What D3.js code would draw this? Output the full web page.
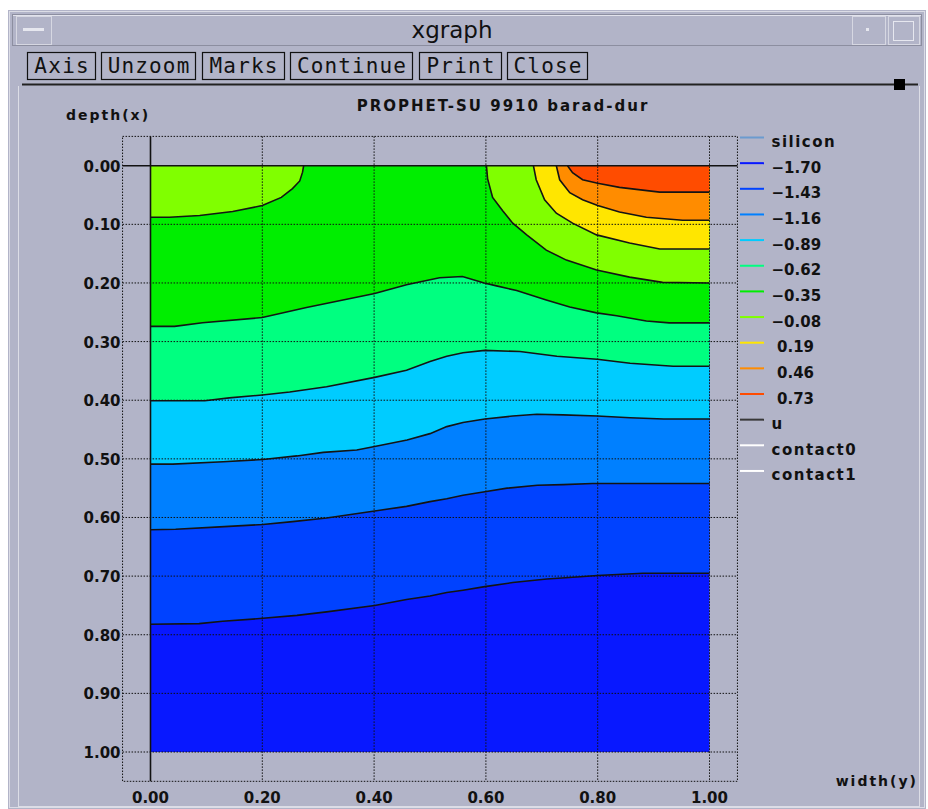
<!DOCTYPE html>
<html>
<head>
<meta charset="utf-8">
<script src="https://cdn.jsdelivr.net/npm/d3@7"></script>
<style>
	body { margin: 0; background: #fff; }
	svg { display: block; font-family: "DejaVu Sans", sans-serif; }
</style>
</head>
<body>
<div id="chart-container"></div>
<script>
const width = 928;
const height = 809;

// contour levels (u) and the legend entries
const levels = [-1.70, -1.43, -1.16, -0.89, -0.62, -0.35, -0.08, 0.19, 0.46, 0.73];
const extraSeries = ["u", "contact0", "contact1"];
const buttons = ["Axis", "Unzoom", "Marks", "Continue", "Print", "Close"];
const xTicks = [0.0, 0.2, 0.4, 0.6, 0.8, 1.0];
const yTicks = [0.0, 0.1, 0.2, 0.3, 0.4, 0.5, 0.6, 0.7, 0.8, 0.9, 1.0];

// contour pieces, points are [width(y), depth(x)]
const contour_m143 = [[0, 0.782], [0.087, 0.781], [0.129, 0.777], [0.201, 0.772], [0.262, 0.767], [0.315, 0.761], [0.401, 0.750], [0.458, 0.740], [0.500, 0.734], [0.530, 0.728], [0.559, 0.724], [0.598, 0.718], [0.648, 0.711], [0.709, 0.705], [0.769, 0.701], [0.799, 0.699], [0.881, 0.695], [1.0, 0.695]];
const contour_m116 = [[0, 0.621], [0.045, 0.620], [0.124, 0.616], [0.201, 0.612], [0.254, 0.607], [0.315, 0.601], [0.401, 0.589], [0.458, 0.581], [0.500, 0.573], [0.530, 0.568], [0.559, 0.562], [0.598, 0.556], [0.638, 0.550], [0.692, 0.545], [0.738, 0.544], [0.791, 0.542], [1.0, 0.542]];
const contour_m089 = [[0, 0.509], [0.040, 0.509], [0.130, 0.505], [0.201, 0.501], [0.262, 0.495], [0.309, 0.489], [0.369, 0.485], [0.401, 0.479], [0.459, 0.468], [0.500, 0.457], [0.530, 0.445], [0.559, 0.438], [0.598, 0.432], [0.648, 0.427], [0.691, 0.424], [0.738, 0.425], [0.799, 0.427], [0.858, 0.430], [0.918, 0.432], [1.0, 0.432]];
const contour_m062 = [[0, 0.401], [0.097, 0.401], [0.141, 0.396], [0.200, 0.391], [0.249, 0.386], [0.315, 0.377], [0.401, 0.361], [0.458, 0.349], [0.500, 0.334], [0.530, 0.325], [0.559, 0.319], [0.598, 0.315], [0.661, 0.317], [0.727, 0.325], [0.799, 0.330], [0.858, 0.337], [0.935, 0.342], [1.0, 0.342]];
const contour_m035 = [[0, 0.274], [0.043, 0.274], [0.093, 0.268], [0.200, 0.259], [0.279, 0.242], [0.401, 0.218], [0.458, 0.203], [0.517, 0.191], [0.558, 0.189], [0.597, 0.200], [0.619, 0.205], [0.655, 0.213], [0.708, 0.229], [0.750, 0.241], [0.798, 0.251], [0.834, 0.256], [0.887, 0.265], [0.928, 0.268], [1.0, 0.268]];
const contour_m008_left = [[0, 0.088], [0.034, 0.088], [0.088, 0.085], [0.147, 0.078], [0.200, 0.068], [0.234, 0.054], [0.254, 0.039], [0.267, 0.026], [0.272, 0.011], [0.274, 0]];
const contour_m008_right = [[0.601, 0], [0.603, 0.022], [0.612, 0.054], [0.630, 0.077], [0.648, 0.098], [0.673, 0.118], [0.708, 0.144], [0.744, 0.161], [0.798, 0.178], [0.857, 0.190], [0.916, 0.199], [1.0, 0.200]];
const contour_p019 = [[0.685, 0], [0.690, 0.024], [0.705, 0.058], [0.726, 0.081], [0.755, 0.098], [0.798, 0.118], [0.857, 0.132], [0.911, 0.142], [1.0, 0.142]];
const contour_p046 = [[0.726, 0], [0.732, 0.024], [0.750, 0.046], [0.773, 0.058], [0.800, 0.068], [0.839, 0.079], [0.887, 0.088], [0.952, 0.093], [1.0, 0.093]];
const contour_p073 = [[0.746, 0], [0.755, 0.012], [0.773, 0.024], [0.800, 0.030], [0.839, 0.037], [0.911, 0.045], [1.0, 0.045]];

// each piece bounds the band of the given level on its upper side
const pieces = [
	{ level: -1.43, points: contour_m143 },
	{ level: -1.16, points: contour_m116 },
	{ level: -0.89, points: contour_m089 },
	{ level: -0.62, points: contour_m062 },
	{ level: -0.35, points: contour_m035 },
	{ level: -0.08, points: contour_m008_left },
	{ level: -0.08, points: contour_m008_right },
	{ level: 0.19, points: contour_p019 },
	{ level: 0.46, points: contour_p046 },
	{ level: 0.73, points: contour_p073 },
];

const color = d3
	.scaleOrdinal()
	.domain(levels)
	.range(["#0818ff", "#0042ff", "#0080ff", "#00ccff", "#00ff80", "#00ee00", "#80ff00", "#ffe600", "#ff8c00", "#ff4c00"]);

const x = d3.scaleLinear().domain([0, 1]).range([150.5, 709.5]);
const y = d3.scaleLinear().domain([0, 1]).range([165.7, 752]);
const fmt = d3.format(".2f");

const svg = d3
	.select("#chart-container")
	.append("svg")
	.attr("width", width)
	.attr("height", height)
	.attr("viewBox", [0, 0, width, height]);

// window chrome
const bg = "#b2b4c8";
svg.append("rect").attr("x", 8).attr("y", 10).attr("width", 918).attr("height", 799).attr("fill", bg);
svg.append("rect").attr("x", 9.5).attr("y", 11.5).attr("width", 915).attr("height", 796).attr("fill", "none").attr("stroke", "#dcdde6");
svg.append("rect").attr("x", 12.5).attr("y", 14.5).attr("width", 909).attr("height", 31).attr("fill", bg).attr("stroke", "#8c8ea0");
svg.append("line").attr("x1", 13).attr("x2", 921).attr("y1", 15.5).attr("y2", 15.5).attr("stroke", "#e2e3ec");
[[16, 51], [852, 885], [888, 919]].forEach(([a, b]) => {
	svg.append("rect").attr("x", a + 0.5).attr("y", 16.5).attr("width", b - a).attr("height", 28).attr("fill", bg).attr("stroke", "#d6d7e2");
});
svg.append("line").attr("x1", 23).attr("x2", 44).attr("y1", 29.5).attr("y2", 29.5).attr("stroke", "#e6e7ef").attr("stroke-width", 3);
svg.append("rect").attr("x", 866).attr("y", 28).attr("width", 3).attr("height", 3).attr("fill", "#e6e7ef");
svg.append("rect").attr("x", 893.5).attr("y", 21.5).attr("width", 20).attr("height", 19).attr("fill", "none").attr("stroke", "#e6e7ef");

svg
	.append("text")
	.attr("x", 452)
	.attr("y", 38)
	.attr("text-anchor", "middle")
	.attr("font-size", 23)
	.attr("fill", "#111")
	.text("xgraph");

// button row
const buttonX = [27, 101, 202, 290, 419, 507];
const buttonW = [68, 94, 82, 122, 82, 80];
const btn = svg
	.selectAll(".button")
	.data(buttons)
	.join("g")
	.attr("class", "button")
	.attr("transform", (d, i) => `translate(${buttonX[i]}, 52)`);
btn
	.append("rect")
	.attr("x", 0.5)
	.attr("y", 0.5)
	.attr("width", (d, i) => buttonW[i])
	.attr("height", 27)
	.attr("fill", bg)
	.attr("stroke", "#111")
	.attr("stroke-width", 1.2);
btn
	.append("text")
	.attr("x", (d, i) => buttonW[i] / 2 + 0.5)
	.attr("y", 21)
	.attr("text-anchor", "middle")
	.style("font-family", "'DejaVu Sans Mono', monospace")
	.attr("font-size", 21)
	.attr("textLength", (d) => d.length * 13.6)
	.attr("fill", "#111")
	.text((d) => d);

svg.append("line").attr("x1", 22).attr("x2", 918).attr("y1", 84.5).attr("y2", 84.5).attr("stroke", "#222").attr("stroke-width", 2);
svg.append("rect").attr("x", 894).attr("y", 79).attr("width", 11).attr("height", 11).attr("fill", "#000");
svg.append("line").attr("x1", 18.5).attr("x2", 18.5).attr("y1", 86).attr("y2", 806).attr("stroke", "#dcdde6");
svg.append("line").attr("x1", 919.5).attr("x2", 919.5).attr("y1", 86).attr("y2", 806).attr("stroke", "#dcdde6");
svg.append("line").attr("x1", 18).attr("x2", 920).attr("y1", 806.5).attr("y2", 806.5).attr("stroke", "#dcdde6");

// filled bands
const plot = svg.append("g");
plot
	.append("rect")
	.attr("x", x(0))
	.attr("y", y(0))
	.attr("width", x(1) - x(0))
	.attr("height", y(1) - y(0))
	.attr("fill", color(levels[0]));

const line = d3.line((d) => x(d[0]), (d) => y(d[1]));

function closeRegion(points) {
	const first = points[0];
	const last = points[points.length - 1];
	const ring = points.slice();
	if (last[0] === 1) ring.push([1, 0]);
	if (first[0] === 0) ring.push([0, 0]);
	return ring;
}

plot
	.selectAll(".band")
	.data(pieces)
	.join("path")
	.attr("class", "band")
	.attr("d", (d) => line(closeRegion(d.points)) + "Z")
	.attr("fill", (d) => color(d.level));

plot
	.selectAll(".contour")
	.data(pieces)
	.join("path")
	.attr("class", "contour")
	.attr("d", (d) => line(d.points))
	.attr("fill", "none")
	.attr("stroke", "#141414")
	.attr("stroke-width", 1.6);

// dotted grid and frame
const gx0 = x(-0.05), gx1 = x(1.05);
const gy0 = y(-0.05), gy1 = y(1.05);
const grid = svg.append("g").attr("stroke", "#111").attr("stroke-dasharray", "1.5,1.5").attr("stroke-width", 1);
grid
	.selectAll(".vgrid")
	.data(xTicks.slice(1))
	.join("line")
	.attr("x1", (d) => x(d))
	.attr("x2", (d) => x(d))
	.attr("y1", gy0)
	.attr("y2", gy1);
grid
	.selectAll(".hgrid")
	.data(yTicks.slice(1))
	.join("line")
	.attr("x1", gx0)
	.attr("x2", gx1)
	.attr("y1", (d) => y(d))
	.attr("y2", (d) => y(d));
grid
	.append("rect")
	.attr("x", gx0)
	.attr("y", gy0)
	.attr("width", gx1 - gx0)
	.attr("height", gy1 - gy0)
	.attr("fill", "none");

// solid zero axes
svg.append("line").attr("x1", x(0)).attr("x2", x(0)).attr("y1", gy0).attr("y2", gy1).attr("stroke", "#111").attr("stroke-width", 1.6);
svg.append("line").attr("x1", gx0).attr("x2", gx1).attr("y1", y(0)).attr("y2", y(0)).attr("stroke", "#111").attr("stroke-width", 1.6);

// tick labels
const labels = svg.append("g").attr("font-weight", "bold").attr("font-size", 15).attr("fill", "#111");
labels
	.selectAll(".ylab")
	.data(yTicks)
	.join("text")
	.attr("x", gx0 - 2)
	.attr("y", (d) => y(d) + 6)
	.attr("text-anchor", "end")
	.text((d) => fmt(d));
labels
	.selectAll(".xlab")
	.data(xTicks)
	.join("text")
	.attr("x", (d) => x(d))
	.attr("y", 803)
	.attr("text-anchor", "middle")
	.text((d) => fmt(d));

// titles
const words = svg.append("g").attr("font-weight", "bold").attr("fill", "#111").attr("letter-spacing", 2);
words.append("text").attr("x", 503).attr("y", 111).attr("text-anchor", "middle").attr("font-size", 15).text("PROPHET-SU 9910 barad-dur");
words.append("text").attr("x", 66).attr("y", 120).attr("font-size", 14).text("depth(x)");
words.append("text").attr("x", 918).attr("y", 786).attr("text-anchor", "end").attr("font-size", 14).text("width(y)");

// legend
const legendData = [{ name: "silicon", stroke: "#6b9bcf" }]
	.concat(levels.map((v) => ({ name: fmt(v), stroke: color(v), value: v })))
	.concat(extraSeries.map((s) => ({ name: s, stroke: s === "u" ? "#383838" : "#ffffff" })));

const legend = svg
	.append("g")
	.selectAll(".legend")
	.data(legendData)
	.join("g")
	.attr("class", "legend")
	.attr("transform", (d, i) => `translate(740, ${137.5 + i * 25.65})`);
legend
	.append("line")
	.attr("x1", 0)
	.attr("x2", 24)
	.attr("stroke", (d) => d.stroke)
	.attr("stroke-width", 2);
legend
	.append("text")
	.attr("x", (d) => (d.value > 0 ? 37 : 31.5))
	.attr("y", 9.5)
	.attr("font-size", 15)
	.attr("font-weight", "bold")
	.attr("fill", "#111")
	.attr("letter-spacing", (d) => (d.value === undefined ? 1.5 : 0))
	.text((d) => d.name);
</script>
</body>
</html>
